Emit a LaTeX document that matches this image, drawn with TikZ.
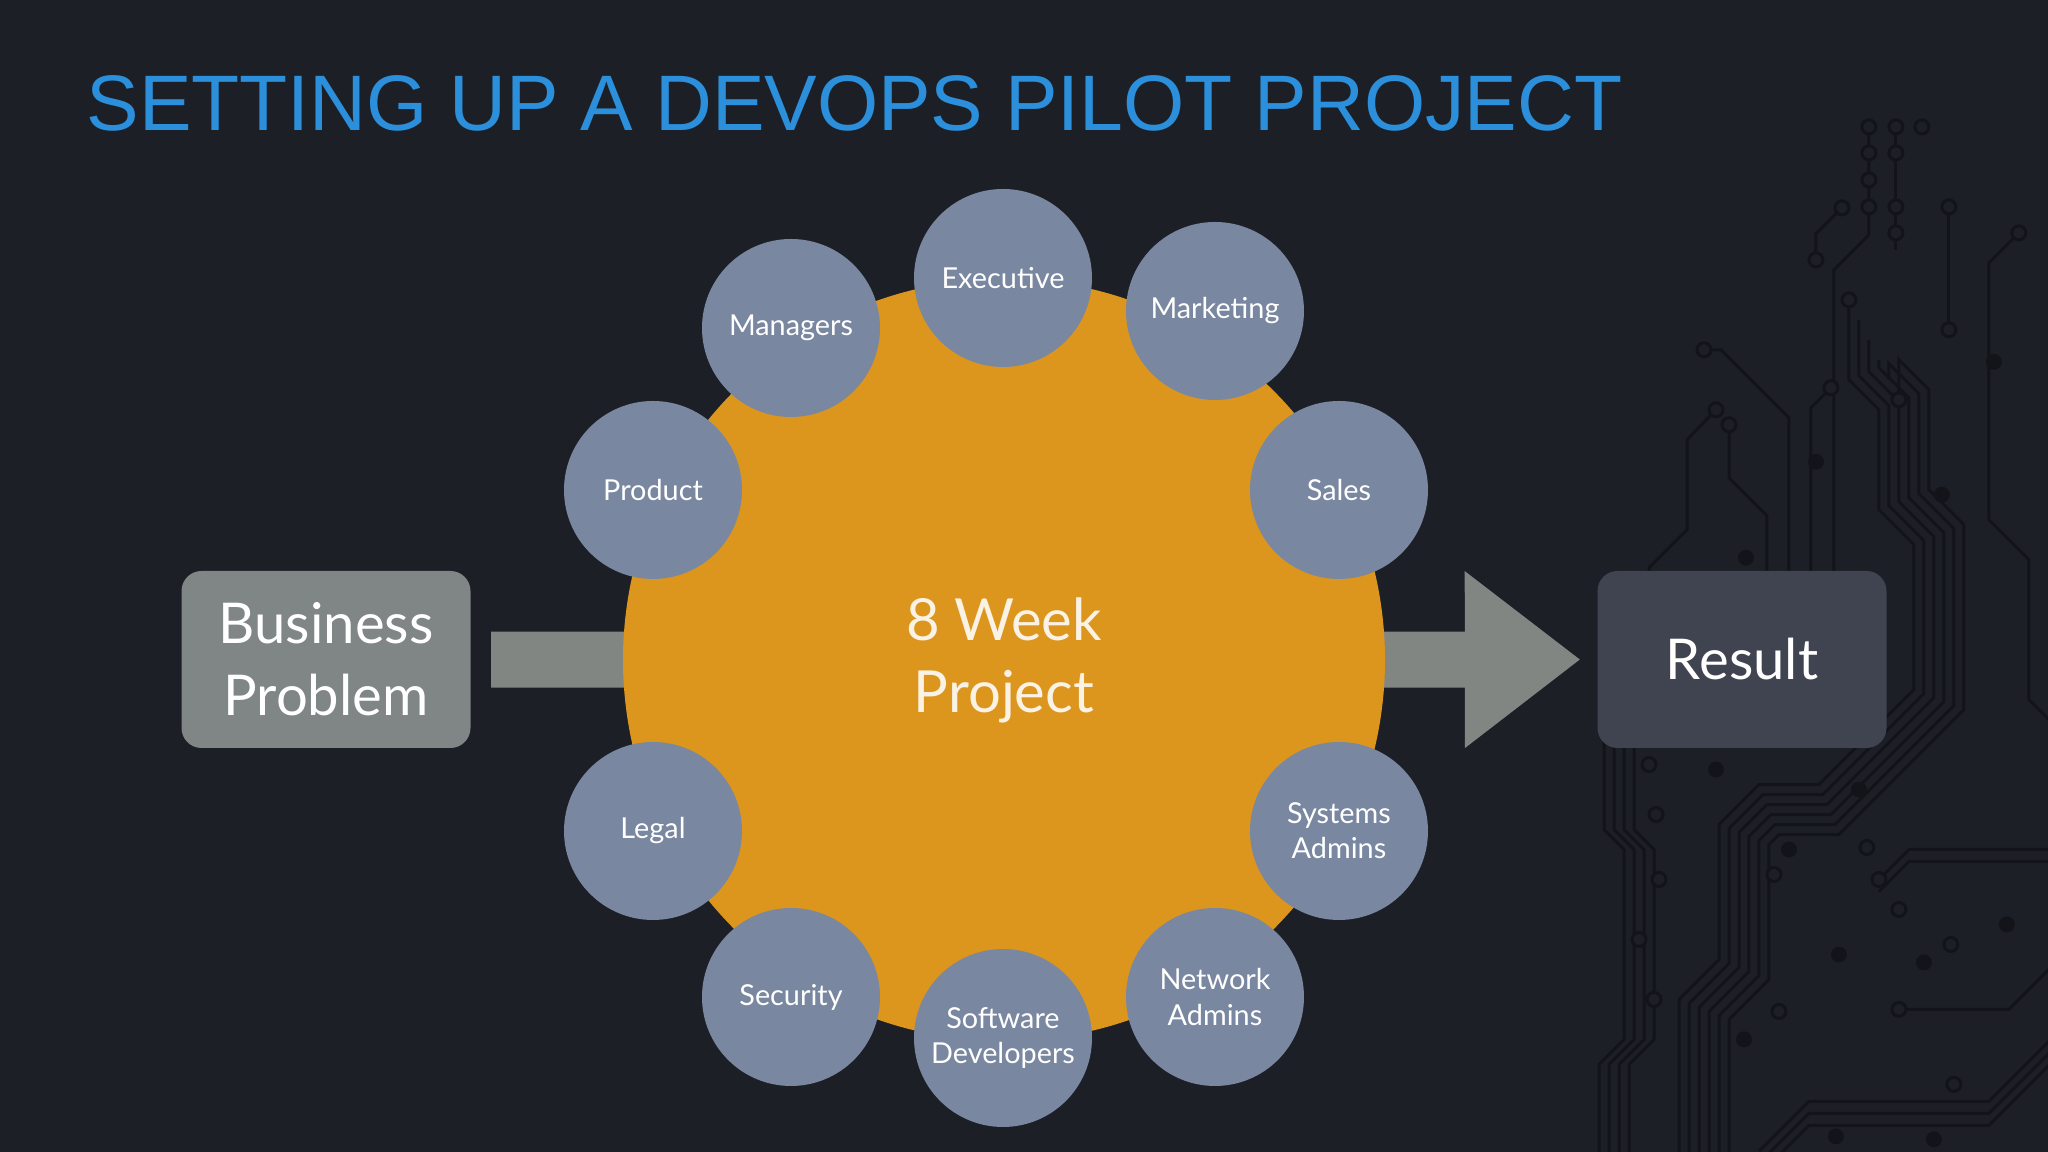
\documentclass[tikz,border=0pt]{standalone}
\usepackage{fontspec}
\setmainfont{Lato}
\newfontfamily\titlefont{Liberation Sans}
\usetikzlibrary{arrows.meta}

\definecolor{slide}{RGB}{28,31,38}
\definecolor{trace}{RGB}{18,20,26}
\definecolor{titleblue}{RGB}{43,143,219}
\definecolor{projorange}{RGB}{220,150,30}
\definecolor{teamgray}{RGB}{122,135,160}
\definecolor{bizgray}{RGB}{128,133,133}
\definecolor{resgray}{RGB}{64,68,80}
\definecolor{bargray}{RGB}{130,134,131}

\pgfdeclarelayer{background}
\pgfsetlayers{background,main}

\tikzset{
  team/.style={circle, fill=teamgray, minimum size=1.78cm, inner sep=0pt,
    text=white, align=center, font=\fontsize{8.2}{10}\selectfont},
  box/.style={rounded corners=0.2cm, minimum width=2.89cm, minimum height=1.77cm,
    inner sep=0pt, text=white, align=center, font=\fontsize{16}{20.5}\selectfont},
  bar/.style={line width=0.56cm, draw=bargray},
  pad/.style={draw=trace, fill=slide, line width=0.03cm},
  via/.style={fill=trace}
}

\begin{document}
\begin{tikzpicture}
 \useasboundingbox (0,0) rectangle (20.48,11.52);
 \node [anchor=base west, inner sep=0pt, text=titleblue,
   font=\titlefont\fontsize{22.4}{27}\selectfont] (title) at (0.86,10.21)
   {SETTING UP A DEVOPS PILOT PROJECT};

 \node [box, fill=bizgray] (biz) at (3.26,4.925) {Business\\Problem};
 \node [box, fill=resgray] (res) at (17.42,4.925) {Result};

 \node [circle, fill=projorange, minimum size=7.62cm, inner sep=0pt,
   text={rgb,255:red,250;green,242;blue,228}, align=center,
   font=\fontsize{16.5}{20.5}\selectfont] (proj) at (10.04,4.92) {8 Week\\Project};

 \node [team] (exe) at (10.03,8.74) {Executive};
 \node [team] (mgr) at (7.91,8.24) {Managers};
 \node [team] (mkt) at (12.15,8.41) {Marketing};
 \node [team] (prod) at (6.53,6.62) {Product};
 \node [team] (sales) at (13.39,6.62) {Sales};
 \node [team] (legal) at (6.53,3.21) {Legal};
 \node [team] (sys) at (13.39,3.21) {Systems\\Admins};
 \node [team] (sec) at (7.91,1.55) {Security};
 \node [team] (dev) at (10.03,1.14) {Software\\Developers};
 \node [team] (net) at (12.15,1.55) {Network\\Admins};

 \begin{pgfonlayer}{background}
  \fill [slide] (0,0) rectangle (20.48,11.52);
  % circuit board in the corner, in pixels from the top left
  \begin{scope}[x=0.01cm, y=-0.01cm, yshift=11.52cm, draw=trace, line width=0.03cm]
   \draw (1870,127) -- (1870,235) -- (1835,270) -- (1835,600);
   \draw (1897,127) -- (1897,250);
   \draw (1843,208) -- (1817,234) -- (1817,260);
   \draw (1832,388) -- (1812,408) -- (1812,600);
   \draw (1705,350) -- (1722,350) -- (1790,418) -- (1790,600);
   \draw (1717,410) -- (1688,440) -- (1688,530) -- (1650,568) -- (1650,600);
   \draw (1730,425) -- (1730,478) -- (1768,516) -- (1768,600);
   \draw (1950,207) -- (1950,330);
   \draw (2020,233) -- (1990,263) -- (1990,520) -- (2030,560) -- (2030,700) -- (2060,730);
   \foreach \d in {0,10,...,50}
    \draw ({1850+\d},{300+2*\d}) -- ({1850+\d},{380-0.4*\d}) -- ({1880+\d},{410-0.4*\d})
      -- ({1880+\d},{510-0.4*\d}) -- ({1915+\d},{545-0.4*\d})
      -- ({1915+\d},{690+0.4*\d}) -- ({1820+0.4*\d},{785+\d})
      -- ({1760+0.4*\d},{785+\d}) -- ({1720+\d},{825+0.4*\d})
      -- ({1720+\d},{960+0.4*\d}) -- ({1680+\d},{1000+0.4*\d}) -- (1680+\d,1160);
   \foreach \d in {0,10,20,30}
    \draw (1605+\d,740) -- (1605+\d,830) -- (1625+\d,850) -- (1625+\d,1040)
      -- (1600+\d,1065) -- (1600+\d,1160);
   \foreach \d in {0,12,24}
    \draw (1760,1152+\d) -- (1810,1102+\d) -- (1990,1102+\d) -- (2060,1032+\d);
   \foreach \d in {0,12}
    \draw (1880,880+\d) -- (1910,850+\d) -- (2060,850+\d);
   \draw (1900,1010) -- (2010,1010) -- (2060,960);
   \foreach \p in {(1870,127),(1897,127),(1923,127),(1870,153),(1870,180),(1870,207),
     (1897,153),(1897,207),(1897,233),(1843,208),(1817,260),(1950,207),(1950,330),
     (2020,233),(1705,350),(1717,410),(1730,425),(1832,388),(1850,300),(1900,400),
     (1650,765),(1657,815),(1660,880),(1775,875),(1868,848),(1900,910),(1952,945),
     (1640,940),(1655,1000),(1780,1012),(1955,1085),(1880,880),(1900,1010)}
    \draw [pad] \p circle [radius=7];
   \foreach \p in {(1995,362),(1817,462),(1943,495),(1747,558),(1717,770),(1860,790),
     (1790,850),(1840,955),(1925,963),(2008,925),(1935,1140),(1837,1137),(1745,1040)}
    \fill [via] \p circle [radius=8];
  \end{scope}
  \draw [bar, shorten <=0.2cm] (biz.east) -- (proj.center);
  \draw [bar, -{Triangle[length=1.15cm,width=1.77cm,line width=0pt]},
    shorten >=0.17cm] (proj.center) -- (res.west);
 \end{pgfonlayer}
\end{tikzpicture}
\end{document}
